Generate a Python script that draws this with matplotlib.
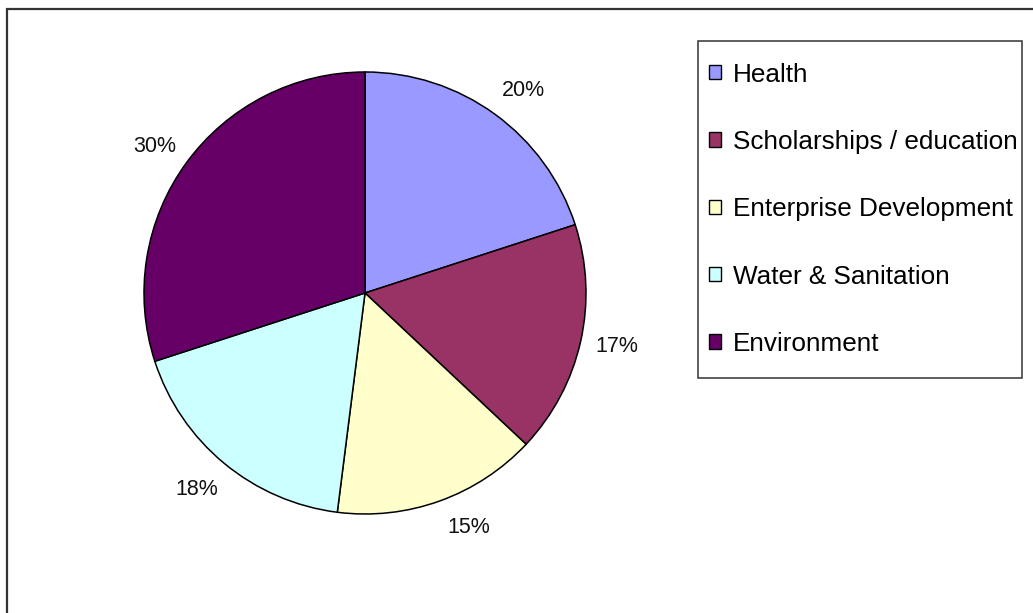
import numpy as np
import matplotlib
matplotlib.use("Agg")
import matplotlib.pyplot as plt
from matplotlib.patches import Rectangle, Patch

plt.rcParams['font.family'] = ['Liberation Sans', 'DejaVu Sans']

# Share of spending by programme area (percent)
categories = ["Health", "Scholarships / education", "Enterprise Development",
              "Water & Sanitation", "Environment"]
shares = [20, 17, 15, 18, 30]
colors = ["#9999FF", "#993366", "#FFFFCC", "#CCFFFF", "#660066"]

W, H = 1033, 613
fig = plt.figure(figsize=(W / 100, H / 100), dpi=100)
fig.patch.set_facecolor("white")

# outer chart border (runs off the right and bottom edge)
fig.patches.append(Rectangle((7 / W, -0.05), 1.2, 1 - 9 / H + 0.05,
                             transform=fig.transFigure, fill=False,
                             edgecolor="#333333", linewidth=1.6))

# pie axes: centre (365, 293) px, radius 221 px
cx, cy, r = 365, 293, 221
ax = fig.add_axes([(cx - r) / W, (H - cy - r) / H, 2 * r / W, 2 * r / H])
wedges, _ = ax.pie(shares, colors=colors, startangle=90, counterclock=False,
                   radius=1.0, wedgeprops=dict(edgecolor="black", linewidth=1.1))
ax.set_xlim(-1, 1)
ax.set_ylim(-1, 1)
ax.set_aspect("equal")
ax.axis("off")

# percentage labels placed outside each wedge
label_dist = [1.165, 1.165, 1.16, 1.17, 1.16]
label_turn = [-2, 0.5, 4, -1, 1.2]
for w, val, d, t in zip(wedges, shares, label_dist, label_turn):
    mid = np.deg2rad((w.theta1 + w.theta2) / 2 + t)
    ax.text(d * np.cos(mid), d * np.sin(mid), f"{val}%", ha="center",
            va="center", fontsize=15.5, color="#111111", clip_on=False)

# legend box
lx0, ly0, lx1, ly1 = 698, 41, 1022, 378
fig.patches.append(Rectangle((lx0 / W, 1 - ly1 / H), (lx1 - lx0) / W,
                             (ly1 - ly0) / H, transform=fig.transFigure,
                             fill=False, edgecolor="#333333", linewidth=1.1))

handles = [Patch(facecolor=c, edgecolor="black", linewidth=1.0) for c in colors]
leg = fig.legend(handles, categories, loc="upper left",
                 bbox_to_anchor=(709 / W, 1 - 62.5 / H), frameon=False,
                 fontsize=18.8, borderpad=0, borderaxespad=0,
                 handlelength=0.46, handleheight=0.46, handletextpad=0.46,
                 labelspacing=1.66)

fig.savefig("out.png", dpi=100, facecolor="white")
